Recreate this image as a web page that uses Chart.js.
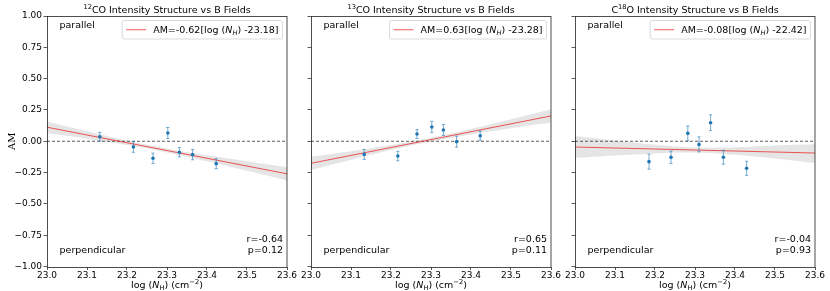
<!DOCTYPE html>
<html><head><meta charset="utf-8">
<script src="https://cdn.jsdelivr.net/npm/chart.js@4.4.0/dist/chart.umd.min.js"></script>
<style>
html,body{margin:0;padding:0;background:#fff;width:830px;height:291px;overflow:hidden;}
.wrap{position:absolute;top:0;height:291px;}
canvas{display:block;}
</style></head><body>
<div class="wrap" style="left:0px;width:300px"><canvas id="c0" width="300" height="291"></canvas></div>
<div class="wrap" style="left:264px;width:300px"><canvas id="c1" width="300" height="291"></canvas></div>
<div class="wrap" style="left:528px;width:302px"><canvas id="c2" width="302" height="291"></canvas></div>
<script>
// ---- tick labels ----
const xTickValues = [23.0, 23.1, 23.2, 23.3, 23.4, 23.5, 23.6];
const yTickValues = [-1.0, -0.75, -0.5, -0.25, 0.0, 0.25, 0.5, 0.75, 1.0];

// ---- titles / annotations ----
const titlePre  = ['', '', 'C'];
const titleSup  = ['12', '13', '18'];
const titlePost = ['CO Intensity Structure vs B Fields', 'CO Intensity Structure vs B Fields', 'O Intensity Structure vs B Fields'];
const legendPre  = ['AM=-0.62[log (', 'AM=0.63[log (', 'AM=-0.08[log ('];
const legendPost = [') -23.18]', ') -23.28]', ') -22.42]'];
const rLabels = ['r=-0.64', 'r=0.65', 'r=-0.04'];
const pLabels = ['p=0.12', 'p=0.11', 'p=0.93'];

// ---- measurement points ----
const xCO12 = [23.132, 23.216, 23.265, 23.302, 23.331, 23.364, 23.423];
const yCO12 = [0.036, -0.045, -0.136, 0.066, -0.088, -0.107, -0.179];
const eCO12 = [0.035, 0.043, 0.041, 0.044, 0.037, 0.041, 0.040];

const xCO13 = [23.133, 23.217, 23.265, 23.302, 23.331, 23.364, 23.423];
const yCO13 = [-0.105, -0.118, 0.058, 0.114, 0.090, -0.003, 0.044];
const eCO13 = [0.040, 0.038, 0.035, 0.045, 0.043, 0.044, 0.037];

const xC18O = [23.185, 23.240, 23.282, 23.310, 23.339, 23.371, 23.429];
const yC18O = [-0.163, -0.128, 0.063, -0.025, 0.148, -0.128, -0.216];
const eC18O = [0.060, 0.049, 0.059, 0.060, 0.063, 0.055, 0.056];

// ---- fit line and confidence band (read at xTickValues) ----
const fitCO12  = [0.112, 0.050, -0.012, -0.074, -0.136, -0.198, -0.260];
const bandHiCO12 = [0.158, 0.080, 0.006, -0.059, -0.112, -0.160, -0.207];
const bandLoCO12 = [0.066, 0.020, -0.030, -0.089, -0.160, -0.236, -0.313];

const fitCO13  = [-0.176, -0.113, -0.050, 0.013, 0.076, 0.139, 0.202];
const bandHiCO13 = [-0.123, -0.079, -0.030, 0.028, 0.098, 0.175, 0.255];
const bandLoCO13 = [-0.229, -0.147, -0.070, -0.002, 0.054, 0.103, 0.149];

const fitC18O  = [-0.046, -0.054, -0.062, -0.070, -0.078, -0.086, -0.094];
const bandHiC18O = [0.042, 0.006, -0.027, -0.050, -0.048, -0.034, -0.024];
const bandLoC18O = [-0.134, -0.114, -0.097, -0.090, -0.108, -0.138, -0.174];

const zeroX = [23.0, 23.6];
const zeroY = [0, 0];

const panels = [
  {x: xCO12, y: yCO12, e: eCO12, fit: fitCO12, hi: bandHiCO12, lo: bandLoCO12},
  {x: xCO13, y: yCO13, e: eCO13, fit: fitCO13, hi: bandHiCO13, lo: bandLoCO13},
  {x: xC18O, y: yC18O, e: eC18O, fit: fitC18O, hi: bandHiC18O, lo: bandLoC18O}
];

Chart.defaults.font.family = '"DejaVu Sans"';
Chart.defaults.color = '#000';

const FF = '"DejaVu Sans"';
function f(sz, st) { return (st ? st + ' ' : '') + sz + 'px ' + FF; }
function richWidth(ctx, segs) {
  let w = 0;
  for (const s of segs) { ctx.font = s.f; w += ctx.measureText(s.t).width; }
  return w;
}
function drawRich(ctx, segs, x, y, align) {
  const w = richWidth(ctx, segs);
  let sx = align === 'center' ? x - w / 2 : (align === 'right' ? x - w : x);
  ctx.textBaseline = 'alphabetic';
  ctx.textAlign = 'left';
  for (const s of segs) {
    ctx.font = s.f;
    ctx.fillText(s.t, sx, y + (s.dy || 0));
    sx += ctx.measureText(s.t).width;
  }
  return w;
}
function pts(xs, ys) { return xs.map((v, i) => ({x: v, y: ys[i]})); }
function fmtY(v) { return v < 0 ? '\u2212' + Math.abs(v).toFixed(2) : v.toFixed(2); }

const LINE_RED = 'rgba(235,25,25,0.72)';

function makeChart(i) {
  const P = panels[i];
  const padRight = i === 2 ? 15 : 13;
  const deco = {
    id: 'deco' + i,
    afterDatasetDraw(chart, args) {
      if (args.index !== 1) return;
      const ctx = chart.ctx, xs = chart.scales.x, ys = chart.scales.y;
      ctx.save();
      ctx.strokeStyle = 'rgba(31,119,180,0.6)';
      ctx.lineWidth = 1;
      for (let k = 0; k < P.x.length; k++) {
        const px = xs.getPixelForValue(P.x[k]);
        const y1 = ys.getPixelForValue(P.y[k] + P.e[k]);
        const y2 = ys.getPixelForValue(P.y[k] - P.e[k]);
        ctx.beginPath();
        ctx.moveTo(px, y1); ctx.lineTo(px, y2);
        ctx.moveTo(px - 1.6, y1); ctx.lineTo(px + 1.6, y1);
        ctx.moveTo(px - 1.6, y2); ctx.lineTo(px + 1.6, y2);
        ctx.stroke();
      }
      ctx.restore();
    },
    afterDraw(chart) {
      const ctx = chart.ctx, a = chart.chartArea;
      ctx.save();
      // frame
      ctx.strokeStyle = '#222';
      ctx.lineWidth = 0.8;
      ctx.strokeRect(Math.round(a.left) + 0.5, Math.round(a.top) + 0.5, Math.round(a.right - a.left) - 0.5, Math.round(a.bottom - a.top));
      ctx.fillStyle = '#000';
      const cx = (a.left + a.right) / 2;
      // title
      const tsegs = [];
      if (titlePre[i]) tsegs.push({t: titlePre[i], f: f(9.5)});
      tsegs.push({t: titleSup[i], f: f(6.7), dy: -3.6});
      tsegs.push({t: titlePost[i], f: f(9.5)});
      drawRich(ctx, tsegs, cx, 13, 'center');
      // x axis title
      drawRich(ctx, [
        {t: 'log (', f: f(9.5)}, {t: 'N', f: f(9.5, 'italic')}, {t: 'H', f: f(6.7), dy: 2.2},
        {t: ') (cm', f: f(9.5)}, {t: '\u22122', f: f(6.7), dy: -3.6}, {t: ')', f: f(9.5)}
      ], cx, 288, 'center');
      // y axis title
      if (i === 0) {
        ctx.save();
        ctx.translate(12.5, (a.top + a.bottom) / 2);
        ctx.rotate(-Math.PI / 2);
        ctx.font = '10px "DejaVu Serif"';
        ctx.textAlign = 'center';
        ctx.textBaseline = 'middle';
        ctx.fillText('AM', 0, 0);
        ctx.restore();
      }
      // annotations
      ctx.font = f(9.5);
      ctx.textBaseline = 'alphabetic';
      ctx.textAlign = 'left';
      ctx.fillText('parallel', a.left + 12.5, a.top + 12.3);
      ctx.fillText('perpendicular', a.left + 12.5, a.bottom - 13.5);
      ctx.textAlign = 'right';
      ctx.fillText(rLabels[i], a.right - 4, a.bottom - 24.8);
      ctx.fillText(pLabels[i], a.right - 4, a.bottom - 13.5);
      // legend
      const lsegs = [
        {t: legendPre[i], f: f(9.5)}, {t: 'N', f: f(9.5, 'italic')}, {t: 'H', f: f(6.7, 'italic'), dy: 2.2},
        {t: legendPost[i], f: f(9.5)}
      ];
      const tw = richWidth(ctx, lsegs);
      const bw = tw + 35, bh = 18.5;
      const bx = a.right - 4.5 - bw, by = a.top + 4.5;
      ctx.beginPath();
      ctx.roundRect(bx, by, bw, bh, 2);
      ctx.fillStyle = 'rgba(255,255,255,0.85)';
      ctx.fill();
      ctx.strokeStyle = '#d0d0d0';
      ctx.lineWidth = 0.8;
      ctx.stroke();
      ctx.strokeStyle = LINE_RED;
      ctx.lineWidth = 1;
      ctx.beginPath();
      ctx.moveTo(bx + 4, by + bh / 2); ctx.lineTo(bx + 24, by + bh / 2);
      ctx.stroke();
      ctx.fillStyle = '#000';
      drawRich(ctx, lsegs, bx + 31, by + 12.5, 'left');
      ctx.restore();
    }
  };

  return new Chart(document.getElementById('c' + i), {
    type: 'scatter',
    data: {
      datasets: [
        {data: pts(P.x, P.y), pointRadius: 1.8, pointHoverRadius: 1.8, pointBackgroundColor: '#1f77b4', pointBorderWidth: 0, showLine: false},
        {data: pts(xTickValues, P.fit), showLine: true, borderColor: LINE_RED, borderWidth: 1, pointRadius: 0, fill: false},
        {data: pts(zeroX, zeroY), showLine: true, borderColor: '#333', borderWidth: 0.8, borderDash: [3, 2], pointRadius: 0, fill: false},
        {data: pts(xTickValues, P.lo), showLine: true, borderWidth: 0, borderColor: 'rgba(0,0,0,0)', pointRadius: 0, fill: false, tension: 0.3},
        {data: pts(xTickValues, P.hi), showLine: true, borderWidth: 0, borderColor: 'rgba(0,0,0,0)', pointRadius: 0, fill: '-1', backgroundColor: 'rgba(160,160,160,0.27)', tension: 0.3}
      ]
    },
    options: {
      responsive: false,
      animation: false,
      events: [],
      layout: {padding: {top: 16, left: 0, right: padRight, bottom: 0}},
      plugins: {legend: {display: false}, title: {display: false}, tooltip: {enabled: false}},
      scales: {
        x: {
          type: 'linear', min: 23.0, max: 23.6,
          afterBuildTicks: s => { s.ticks = xTickValues.map(v => ({value: v})); },
          afterFit: s => { s.height = 24.5; },
          ticks: {font: {size: 9}, color: '#000', padding: 0, maxRotation: 0, autoSkip: false, callback: v => Number(v).toFixed(1)},
          grid: {drawOnChartArea: false, drawTicks: true, tickLength: 3.5, color: '#333', lineWidth: 0.8},
          border: {display: false}
        },
        y: {
          type: 'linear', min: -1, max: 1,
          afterBuildTicks: s => { s.ticks = yTickValues.map(v => ({value: v})); },
          afterFit: s => { s.width = 47; },
          ticks: {font: {size: 9}, color: i === 0 ? '#000' : 'rgba(0,0,0,0)', padding: 1.5, autoSkip: false, callback: v => fmtY(v)},
          grid: {drawOnChartArea: false, drawTicks: true, tickLength: 3.5, color: '#333', lineWidth: 0.8},
          border: {display: false}
        }
      }
    },
    plugins: [deco]
  });
}
[0, 1, 2].forEach(makeChart);
</script>
</body></html>
